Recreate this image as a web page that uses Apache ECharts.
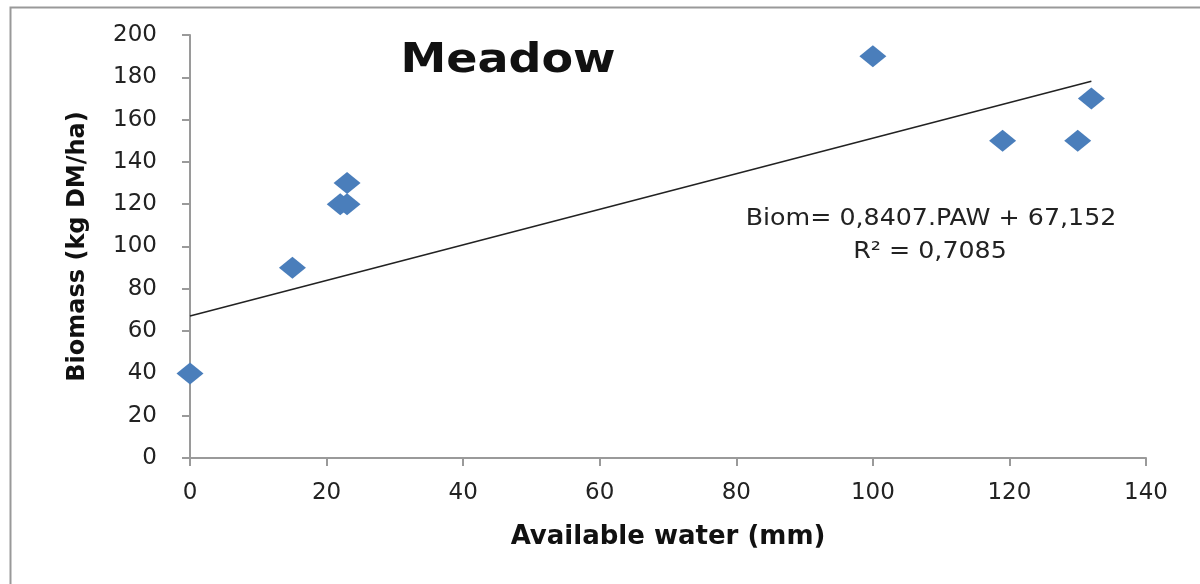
<!DOCTYPE html>
<html>
<head>
<meta charset="utf-8">
<script src="https://cdn.jsdelivr.net/npm/echarts@6/dist/echarts.min.js"></script>
<style>
  html, body { margin: 0; padding: 0; background: #fff; }
  #chart { width: 1200px; height: 584px; }
</style>
</head>
<body>
<div id="chart"></div>
<script>
// measured points: available water (mm) vs biomass (kg DM/ha)
const waterMm = [0, 15, 22, 23, 23, 100, 119, 130, 132]
const biomass = [40, 90, 120, 120, 130, 190, 150, 150, 170]

// linear trend as printed on the chart
const slope = 0.8407
const intercept = 67.152
const trendX = [0, 132]

const xTicks = { min: 0, max: 140, interval: 20 }
const yTicks = { min: 0, max: 200, interval: 20 }

const font = 'DejaVu Sans'
const axisGray = '#9a9a9a'

const chart = echarts.init(document.getElementById('chart'))

chart.setOption({
  animation: false,
  grid: { left: 190, right: 54, top: 35, bottom: 126 },
  xAxis: {
    type: 'value',
    min: xTicks.min, max: xTicks.max, interval: xTicks.interval,
    name: 'Available water (mm)',
    nameLocation: 'middle',
    nameGap: 66,
    nameTextStyle: { fontFamily: font, fontSize: 26, fontWeight: 'bold', color: '#111' },
    axisLine: { show: true, lineStyle: { color: axisGray, width: 2 } },
    axisTick: { show: true, length: 8, lineStyle: { color: axisGray, width: 2 } },
    axisLabel: { fontFamily: font, fontSize: 23, color: '#222', margin: 24 },
    splitLine: { show: false }
  },
  yAxis: {
    type: 'value',
    min: yTicks.min, max: yTicks.max, interval: yTicks.interval,
    name: 'Biomass (kg DM/ha)',
    nameLocation: 'middle',
    nameGap: 100,
    nameTextStyle: { fontFamily: font, fontSize: 24, fontWeight: 'bold', color: '#111' },
    axisLine: { show: true, lineStyle: { color: axisGray, width: 2 } },
    axisTick: { show: true, length: 8, lineStyle: { color: axisGray, width: 2 } },
    axisLabel: { fontFamily: font, fontSize: 23, color: '#222', margin: 33 },
    splitLine: { show: false }
  },
  series: [
    {
      type: 'line',
      data: trendX.map(x => [x, slope * x + intercept]),
      showSymbol: false,
      lineStyle: { color: '#222', width: 1.6 },
      z: 2
    },
    {
      type: 'scatter',
      data: waterMm.map((x, i) => [x, biomass[i]]),
      symbol: 'diamond',
      symbolSize: [27, 22],
      itemStyle: { color: '#4a7ebb', opacity: 1 },
      clip: false,
      z: 3
    }
  ],
  graphic: [
    {
      type: 'rect',
      left: 8, top: 5,
      shape: { width: 1300, height: 700 },
      style: { fill: 'none', stroke: '#999', lineWidth: 2 },
      silent: true
    },
    {
      type: 'text',
      x: 508, y: 62,
      scaleX: 1.15,
      style: {
        text: 'Meadow',
        textAlign: 'center', textVerticalAlign: 'middle',
        fontFamily: font, fontSize: 40, fontWeight: 'bold', fill: '#111'
      }
    },
    {
      type: 'text',
      x: 931, y: 219,
      scaleX: 1.1,
      style: {
        text: 'Biom= 0,8407.PAW + 67,152',
        textAlign: 'center', textVerticalAlign: 'middle',
        fontFamily: font, fontSize: 23, fill: '#222'
      }
    },
    {
      type: 'text',
      x: 930, y: 252,
      scaleX: 1.1,
      style: {
        text: 'R² = 0,7085',
        textAlign: 'center', textVerticalAlign: 'middle',
        fontFamily: font, fontSize: 23, fill: '#222'
      }
    }
  ]
})

window.addEventListener('resize', () => chart.resize())
</script>
</body>
</html>
